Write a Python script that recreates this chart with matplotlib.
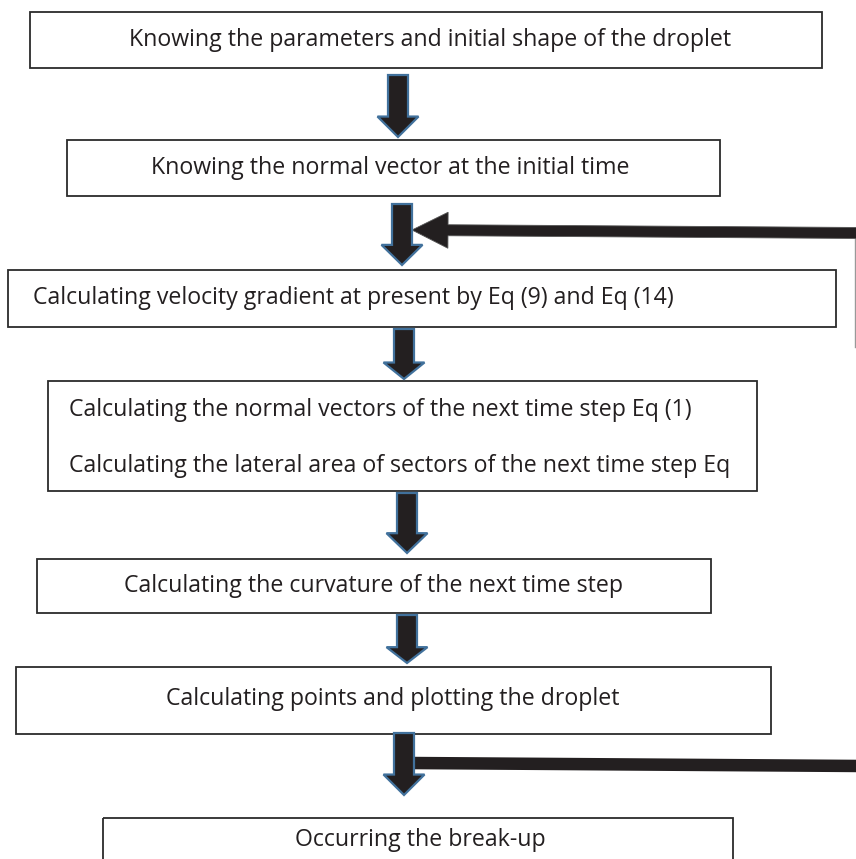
import matplotlib
matplotlib.use('Agg')
import matplotlib.pyplot as plt
from matplotlib.patches import Rectangle, FancyArrow

plt.rcParams['font.family'] = ['Open Sans', 'DejaVu Sans']

# Flowchart steps (text of each box)
step_labels = [
    ['Knowing the parameters and initial shape of the droplet'],
    ['Knowing the normal vector at the initial time'],
    ['Calculating velocity gradient at present by Eq (9) and Eq (14)'],
    ['Calculating the normal vectors of the next time step Eq (1)',
     'Calculating the lateral area of sectors of the next time step Eq'],
    ['Calculating the curvature of the next time step'],
    ['Calculating points and plotting the droplet'],
    ['Occurring the break-up'],
]

# Layout in pixels (left, top, right, bottom) and text alignment
box_extents = [
    (30, 12, 822, 68),
    (67, 140, 720, 196),
    (8, 270, 836, 327),
    (48, 381, 757, 491),
    (37, 559, 711, 613),
    (16, 667, 771, 734),
    (103, 818, 733, 875),
]
text_align = ['center', 'center', 'left', 'left', 'center', 'center', 'center']
text_x = [430, 390, 33, 69, 374, 393, 420]
text_y = [[40], [168], [298], [410, 466], [586], [699], [840]]

# Down arrows between boxes: (x centre, top, tip)
arrows = [
    (398, 75, 137),
    (402, 204, 265),
    (404, 329, 379),
    (407, 493, 553),
    (407, 615, 663),
    (404, 733, 795),
]

W, H = 856, 859
fig = plt.figure(figsize=(W / 100, H / 100), dpi=100)
ax = fig.add_axes([0, 0, 1, 1])
ax.set_xlim(0, W)
ax.set_ylim(H, 0)
ax.axis('off')

text_color = '#231f20'
for lines, (l, t, r, b), ha, tx, tys in zip(step_labels, box_extents, text_align, text_x, text_y):
    ax.add_patch(Rectangle((l, t), r - l, b - t, fill=False, ec='#2b2b2b', lw=1.3, zorder=2))
    for line, ty in zip(lines, tys):
        ax.text(tx, ty, line, ha=ha, va='center', fontsize=16.7, color=text_color, zorder=3)

# feedback loop lines (cut off at right edge)
ax.plot([410, W + 5], [763, 766], color='#231f20', lw=9, solid_capstyle='butt', zorder=3)
ax.plot([W - 1, W - 1], [228, 347], color='#999999', lw=1, zorder=3)
ax.add_patch(FancyArrow(W + 5, 233, 412 - (W + 5), -3, width=11, head_width=36,
                        head_length=36, length_includes_head=True,
                        fc='#231f20', ec='#555555', lw=0.6, zorder=4))

for x, top, tip in arrows:
    ax.add_patch(FancyArrow(x, top, 0, tip - top, width=20, head_width=41,
                            head_length=(tip - top) * 0.33, length_includes_head=True,
                            fc='#231f20', ec='#41719c', lw=1.6, zorder=5))

fig.savefig('out.png', dpi=100)
